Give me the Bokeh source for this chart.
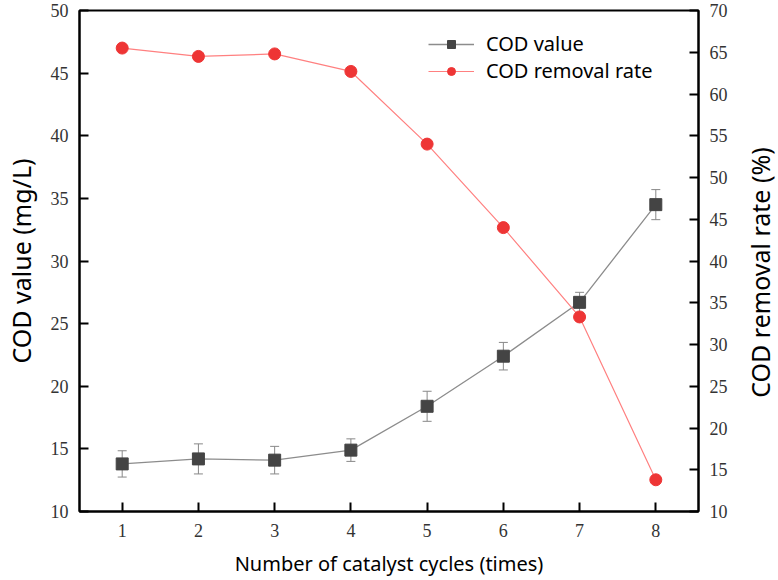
import math
from bokeh.plotting import figure
from bokeh.models import (Range1d, LinearAxis, FixedTicker, Whisker, TeeHead,
                          ColumnDataSource, Legend, LegendItem, Label)
from bokeh.embed import file_html
from bokeh.resources import INLINE

cycles = [1, 2, 3, 4, 5, 6, 7, 8]
cod_value = [13.8, 14.2, 14.1, 14.9, 18.4, 22.4, 26.7, 34.5]
cod_err = [1.05, 1.2, 1.1, 0.9, 1.2, 1.1, 0.8, 1.2]
removal_rate = [65.5, 64.5, 64.8, 62.7, 54.0, 44.0, 33.3, 13.8]

left_ticks = [10, 15, 20, 25, 30, 35, 40, 45, 50]
right_ticks = [10, 15, 20, 25, 30, 35, 40, 45, 50, 55, 60, 65, 70]

src = ColumnDataSource(dict(
    x=cycles, y=cod_value,
    upper=[v + e for v, e in zip(cod_value, cod_err)],
    lower=[v - e for v, e in zip(cod_value, cod_err)],
    r=removal_rate,
))

p = figure(width=778, height=580, output_backend="svg", toolbar_location=None,
           x_range=Range1d(0.44, 8.56), y_range=Range1d(10, 50),
           min_border_left=77, min_border_right=80, min_border_top=10,
           min_border_bottom=69)
p.extra_y_ranges = {"rate": Range1d(10, 70)}
p.xgrid.visible = False
p.ygrid.visible = False
p.outline_line_color = "black"
p.outline_line_width = 2
p.background_fill_color = "white"
p.border_fill_color = "white"

tick_font = "Liberation Serif"
label_font = "Noto Sans"

def style_axis(ax, label_size):
    ax.axis_line_width = 2
    ax.axis_line_color = "black"
    ax.major_tick_in = 9
    ax.major_tick_out = 0
    ax.major_tick_line_width = 2
    ax.minor_tick_line_color = None
    ax.major_label_text_font = tick_font
    ax.major_label_text_font_size = "18px"
    ax.major_label_text_color = "#333333"
    ax.axis_label_text_font = label_font
    ax.axis_label_text_font_size = label_size
    ax.axis_label_text_font_style = "normal"
    ax.axis_label_text_color = "black"

xax = p.xaxis[0]
xax.ticker = FixedTicker(ticks=cycles)
xax.axis_label = "Number of catalyst cycles (times)"
style_axis(xax, "20px")
xax.major_label_standoff = 12
xax.axis_label_standoff = 10

yax = p.yaxis[0]
yax.ticker = FixedTicker(ticks=left_ticks)
yax.axis_label = "COD value (mg/L)"
style_axis(yax, "25px")
yax.major_label_standoff = 11
yax.axis_label_standoff = 10

rax = LinearAxis(y_range_name="rate", ticker=FixedTicker(ticks=right_ticks))
style_axis(rax, "25px")
rax.major_label_standoff = 11
p.add_layout(rax, "right")

# right axis title, reading upward like the left one
p.add_layout(Label(x=29, y=239, x_units="screen", y_units="screen",
                   text="COD removal rate (%)", angle=math.pi / 2,
                   text_align="center", text_baseline="middle",
                   text_font=label_font, text_font_size="25px",
                   text_color="black"), "right")

# error bars
wh = Whisker(source=src, base="x", upper="upper", lower="lower",
             line_color="#888888", line_width=1,
             upper_head=TeeHead(size=9, line_color="#888888", line_width=1),
             lower_head=TeeHead(size=9, line_color="#888888", line_width=1))
p.add_layout(wh)

l1 = p.line("x", "y", source=src, line_color="#8c8c8c", line_width=1.3)
s1 = p.scatter("x", "y", source=src, marker="square", size=12,
               fill_color="#444444", line_color="#444444")

l2 = p.line("x", "r", source=src, y_range_name="rate", line_color="#ff8080",
            line_width=1.2)
s2 = p.scatter("x", "r", source=src, y_range_name="rate", marker="circle",
               size=12, fill_color="#ee3535", line_color="#ee3535")

legend = Legend(items=[
    LegendItem(label="COD value", renderers=[l1, s1]),
    LegendItem(label="COD removal rate", renderers=[l2, s2]),
], location=(349, 427))
legend.border_line_color = None
legend.background_fill_alpha = 0
legend.padding = 0
legend.margin = 0
legend.spacing = -1
legend.glyph_width = 46
legend.glyph_height = 20
legend.label_height = 20
legend.label_standoff = 12
legend.label_text_font = label_font
legend.label_text_font_size = "20px"
legend.label_text_color = "black"
p.add_layout(legend)

open("out.html", "w").write(file_html(p, INLINE))
